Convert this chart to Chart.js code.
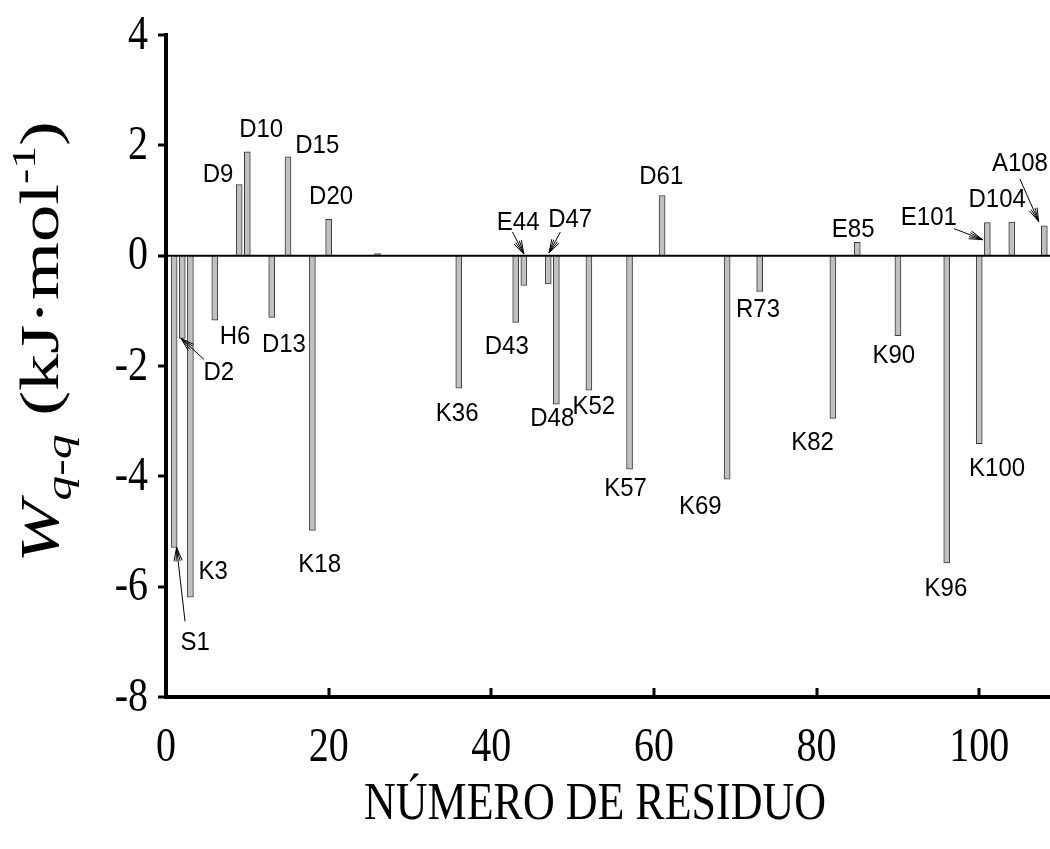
<!DOCTYPE html>
<html lang="es">
<head>
<meta charset="UTF-8">
<title>Wq-q por residuo</title>
<script src="https://cdn.jsdelivr.net/npm/chart.js"></script>
<style>
    body { margin: 0; background: #fff; }
    #wrap { width: 1050px; height: 849px; }
</style>
</head>
<body>
<div id="wrap"><canvas id="barChart" width="1050" height="849"></canvas></div>
<script>
// residue number, energy (kJ/mol) and residue name
const residues = [1, 2, 3, 6, 9, 10, 13, 15, 18, 20, 26, 36, 43, 44, 47, 48, 52, 57, 61, 69, 73, 82, 85, 90, 96, 100, 101, 104, 108];
const energies = [-5.29, -1.5, -6.19, -1.17, 1.29, 1.88, -1.12, 1.79, -4.98, 0.66, 0.04, -2.40, -1.21, -0.54, -0.51, -2.69, -2.44, -3.87, 1.09, -4.05, -0.65, -2.95, 0.24, -1.45, -5.57, -3.41, 0.60, 0.61, 0.54];
const residueNames = ['S1', 'D2', 'K3', 'H6', 'D9', 'D10', 'D13', 'D15', 'K18', 'D20', '', 'K36', 'D43', 'E44', 'D47', 'D48', 'K52', 'K57', 'D61', 'K69', 'R73', 'K82', 'E85', 'K90', 'K96', 'K100', 'E101', 'D104', 'A108'];
const xTickValues = [0, 20, 40, 60, 80, 100];
const yTickValues = [4, 2, 0, -2, -4, -6, -8];

// where each name is written (axis units, text centre)
const namePos = {
    S1: [3.6, -7.02], D2: [6.5, -2.13], K3: [5.8, -5.72], H6: [8.5, -1.47],
    D9: [6.4, 1.46], D10: [11.7, 2.28], D13: [14.5, -1.61], D15: [18.6, 2.0],
    K18: [18.9, -5.6], D20: [20.3, 1.07], K36: [35.8, -2.86], D43: [41.9, -1.65],
    E44: [43.3, 0.6], D47: [49.7, 0.65], D48: [47.5, -2.95], K52: [52.6, -2.74],
    K57: [56.5, -4.22], D61: [60.9, 1.43], K69: [65.7, -4.55], R73: [72.8, -0.98],
    K82: [79.5, -3.39], E85: [84.5, 0.47], K90: [89.5, -1.81], K96: [95.9, -6.03],
    K100: [102.2, -3.86], E101: [93.8, 0.69], D104: [102.2, 1.01], A108: [105.0, 1.67]
};
// leader arrows: [fromX, fromY, toX, toY] in axis units
const leaders = [
    [2.34, -6.63, 1.3, -5.29],
    [4.67, -1.88, 1.85, -1.5],
    [42.6, 0.43, 44.0, 0.03],
    [48.5, 0.43, 47.1, 0.05],
    [96.9, 0.49, 100.4, 0.29],
    [105.0, 1.39, 107.3, 0.62]
];

const serif = '"Liberation Serif", "Times New Roman", serif';
const sans = '"Liberation Sans", Arial, sans-serif';

// text drawn a little taller than wide, as in the exported figure
function tallText(ctx, text, x, y, sy, align) {
    ctx.save();
    ctx.translate(x, y);
    ctx.scale(1, sy);
    ctx.textAlign = align;
    ctx.textBaseline = 'middle';
    ctx.fillText(text, 0, 0);
    ctx.restore();
}

const decorations = {
    id: 'decorations',
    afterDatasetsDraw(chart) {
        const ctx = chart.ctx;
        const x = chart.scales.x, y = chart.scales.y;
        const area = chart.chartArea;
        ctx.save();
        ctx.fillStyle = '#000';
        ctx.strokeStyle = '#000';

        // zero line
        ctx.lineWidth = 2;
        ctx.beginPath();
        ctx.moveTo(area.left, y.getPixelForValue(0));
        ctx.lineTo(area.right, y.getPixelForValue(0));
        ctx.stroke();

        // inward ticks on the x axis, outward ticks on the y axis
        ctx.lineWidth = 3;
        xTickValues.slice(1).forEach(v => {
            const px = Math.round(x.getPixelForValue(v));
            ctx.beginPath();
            ctx.moveTo(px, area.bottom);
            ctx.lineTo(px, area.bottom - 9);
            ctx.stroke();
        });
        yTickValues.forEach(v => {
            const py = Math.round(y.getPixelForValue(v));
            ctx.beginPath();
            ctx.moveTo(area.left, py);
            ctx.lineTo(area.left - 8, py);
            ctx.stroke();
        });

        // tick labels
        ctx.font = '40px ' + serif;
        xTickValues.forEach(v => tallText(ctx, String(v), x.getPixelForValue(v), 748, 1.2, 'center'));
        yTickValues.forEach(v => tallText(ctx, String(v), 148, y.getPixelForValue(v) + 1, 1.2, 'right'));

        // residue names
        ctx.font = '24px ' + sans;
        residueNames.forEach(n => {
            if (!n) return;
            const p = namePos[n];
            tallText(ctx, n, x.getPixelForValue(p[0]), y.getPixelForValue(p[1]), 1.1, 'center');
        });

        // leader arrows
        ctx.lineWidth = 1;
        leaders.forEach(l => {
            const x0 = x.getPixelForValue(l[0]), y0 = y.getPixelForValue(l[1]);
            const x1 = x.getPixelForValue(l[2]), y1 = y.getPixelForValue(l[3]);
            const a = Math.atan2(y0 - y1, x0 - x1);
            ctx.beginPath();
            ctx.moveTo(x0, y0);
            ctx.lineTo(x1, y1);
            [-0.3, -0.15, 0.15, 0.3].forEach(d => {
                ctx.moveTo(x1, y1);
                ctx.lineTo(x1 + 14 * Math.cos(a + d), y1 + 14 * Math.sin(a + d));
            });
            ctx.stroke();
        });

        // x axis title
        ctx.font = '44px ' + serif;
        tallText(ctx, 'NÚMERO DE RESIDUO', 595, 805, 1.2, 'center');

        // y axis title: W_{q-q} (kJ·mol^-1), written bottom to top
        const parts = [
            { t: 'W', f: 'italic 54px ' + serif, dy: 0 },
            { t: 'q-q', f: 'italic 36px ' + serif, dy: 13 },
            { t: ' (kJ·mol', f: '54px ' + serif, dy: 0 },
            { t: '-1', f: '33px ' + serif, dy: -23 },
            { t: ')', f: '54px ' + serif, dy: 0 }
        ];
        let total = 0;
        parts.forEach(p => { ctx.font = p.f; p.w = ctx.measureText(p.t).width; total += p.w; });
        ctx.translate(58, 342);
        ctx.rotate(-Math.PI / 2);
        ctx.scale(1.38, 1);
        ctx.textAlign = 'left';
        ctx.textBaseline = 'alphabetic';
        let cx = -total / 2;
        parts.forEach(p => {
            ctx.font = p.f;
            ctx.fillText(p.t, cx, p.dy);
            cx += p.w;
        });
        ctx.restore();
    }
};

new Chart(document.getElementById('barChart'), {
    type: 'bar',
    data: {
        datasets: [{
            data: residues.map((r, i) => ({ x: r, y: energies[i] })),
            backgroundColor: '#c0c0c0',
            borderColor: '#3a3a3a',
            borderWidth: 1,
            barThickness: 6
        }]
    },
    options: {
        responsive: false,
        animation: false,
        layout: { padding: { top: 35, right: 0, left: 0, bottom: 0 } },
        plugins: { legend: { display: false }, tooltip: { enabled: false } },
        scales: {
            x: {
                type: 'linear',
                offset: false,
                min: 0,
                max: 108.7,
                afterFit: s => { s.height = 152; },
                ticks: { display: false },
                grid: { display: false, drawTicks: false },
                border: { display: true, color: '#000', width: 4 }
            },
            y: {
                min: -8,
                max: 4,
                afterFit: s => { s.width = 166; },
                ticks: { display: false },
                grid: { display: false, drawTicks: false },
                border: { display: true, color: '#000', width: 4 }
            }
        }
    },
    plugins: [decorations]
});
</script>
</body>
</html>
